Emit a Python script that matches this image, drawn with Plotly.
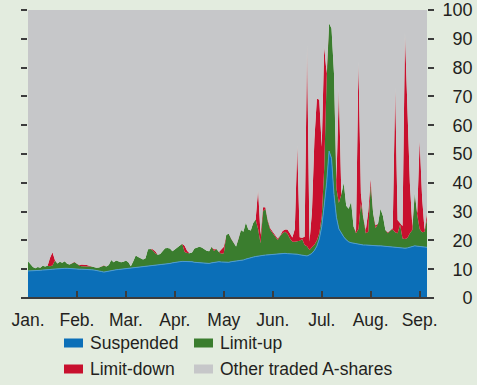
import plotly.graph_objects as go

# Daily share of A-shares by trading status, Jan.–early Sep. (per cent)
months = ["Jan.", "Feb.", "Mar.", "Apr.", "May", "Jun.", "Jul.", "Aug.", "Sep."]
month_start_day = [0, 20, 40, 60, 80, 100, 120, 140, 160]
y_ticks = [0, 10, 20, 30, 40, 50, 60, 70, 80, 90, 100]

suspended = [
    9.4, 9.4, 9.5, 9.5, 9.6, 9.6, 9.7, 9.7, 9.8, 9.9,
    10.0, 10.1, 10.2, 10.3, 10.3, 10.3, 10.3, 10.2, 10.2, 10.1,
    10.1, 10.0, 10.0, 10.0, 9.9, 9.8, 9.8, 9.7, 9.6, 9.5,
    9.2, 9.0, 9.2, 9.4, 9.6, 9.7, 9.8, 9.9, 10.0, 10.1,
    10.2, 10.3, 10.2, 10.4, 10.6, 10.7, 10.8, 10.9, 11.0, 11.1,
    11.2, 11.3, 11.4, 11.5, 11.6, 11.7, 11.8, 11.9, 12.0, 12.2,
    12.4, 12.5, 12.6, 12.7, 12.7, 12.8, 12.7, 12.6, 12.4, 12.3,
    12.2, 12.1, 12.1, 12.0, 12.0, 12.2, 12.4, 12.5, 12.6, 12.5,
    12.4, 12.3, 12.4, 12.6, 12.7, 12.8, 12.9, 13.0, 13.2, 13.5,
    13.8, 14.0, 14.2, 14.4, 14.6, 14.7, 14.8, 14.9, 15.0, 15.1,
    15.2, 15.3, 15.4, 15.5, 15.5, 15.5, 15.4, 15.4, 15.3, 15.3,
    15.2, 15.0, 14.8, 14.6, 14.6, 15.0, 15.5, 16.5, 18.0, 20.5,
    24.8, 32.0, 40.0, 51.0, 48.5, 36.0, 28.0, 24.0, 22.5, 21.2,
    20.2, 19.5, 19.2, 19.0, 18.8, 18.6, 18.5, 18.4, 18.4, 18.3,
    18.3, 18.2, 18.2, 18.1, 18.1, 18.0, 17.9, 17.8, 17.7, 17.6,
    17.6, 17.5, 17.4, 17.3, 17.3, 17.4, 17.6, 17.9, 18.1, 18.0,
    17.9, 17.8, 17.7, 17.6,
]

limit_up = [
    3.4, 2.2, 1.3, 0.8, 1.2, 0.9, 1.5, 1.2, 1.4, 1.1,
    1.3, 2.9, 1.8, 2.3, 1.9, 2.5, 1.6, 1.4, 1.8, 2.3,
    1.8, 1.2, 1.0, 0.9, 1.0, 1.1, 1.1, 0.9, 0.9, 1.1,
    1.7, 2.2, 1.7, 2.1, 3.6, 2.7, 3.2, 2.9, 2.4, 2.5,
    2.8, 2.1, 0.8, 2.4, 4.2, 3.5, 3.0, 2.5, 2.8, 5.8,
    5.8, 5.2, 4.1, 3.5, 3.7, 4.6, 5.5, 5.5, 5.2, 4.0,
    4.5, 5.1, 5.7, 6.1, 3.3, 2.8, 2.8, 3.2, 4.8, 5.3,
    5.6, 5.4, 4.8, 4.4, 4.2, 5.6, 3.9, 4.5, 3.4, 2.9,
    3.1, 9.7, 9.9, 7.9, 6.6, 5.1, 7.6, 10.6, 9.8, 12.7,
    10.0, 9.4, 11.8, 12.9, 9.4, 4.3, 15.2, 16.1, 11.5, 8.5,
    7.3, 5.8, 4.7, 6.0, 7.0, 7.5, 6.9, 5.3, 4.2, 4.2,
    4.4, 4.9, 5.7, 3.8, 3.4, 1.7, 2.1, 2.0, 2.0, 2.0,
    3.4, 13.0, 36.0, 44.4, 45.1, 42.0, 10.0, 9.0, 13.5, 18.8,
    11.8, 11.5, 14.2, 5.8, 3.7, 5.4, 14.4, 9.6, 4.1, 4.7,
    21.2, 11.2, 6.0, 7.8, 12.9, 10.5, 5.7, 4.7, 5.7, 6.2,
    5.2, 5.0, 8.1, 3.4, 3.2, 3.4, 4.9, 5.7, 18.4, 11.0,
    6.1, 5.0, 5.3, 9.9,
]

limit_down = [
    0, 0, 0, 0, 0, 0, 0, 0, 0, 3.0,
    4.6, 0.2, 0, 0, 0, 0, 0, 0, 0, 0.2,
    0, 0.3, 0.6, 0.7, 0.6, 0.3, 0, 0, 0, 0,
    0, 0.2, 0, 0, 0, 0, 0, 0, 0, 0,
    0, 0, 0, 0, 0, 0, 0, 0, 0, 0,
    0, 0.4, 0.7, 0, 0, 0, 0, 0, 0, 0,
    0, 0, 0, 0, 2.1, 0.8, 0, 0, 0, 0,
    0, 0, 0, 0, 0, 0, 0.6, 0, 0, 1.4,
    2.3, 0, 0, 0, 0, 0, 0, 0, 0, 0,
    0, 0, 0, 0, 13.7, 3.0, 1.5, 0.5, 0.5, 0.6,
    0.5, 0.8, 0.6, 0.2, 0.8, 0.8, 1.5, 1.8, 1.5, 4.5,
    33.4, 1.2, 0.4, 2.9, 69.8, 2.8, 12.4, 36.5, 49.3, 46.3,
    24.3, 42.3, 2.0, 0, 0, 0, 3.0, 39.8, 0, 0,
    0, 0, 0, 0, 0.5, 58.1, 3.4, 0, 1.1, 7.0,
    2.1, 0, 1.1, 0, 0, 0, 0, 0.3, 0.2, 0.4,
    50.3, 4.6, 0.5, 4.3, 71.7, 47.2, 17.5, 1.4, 0, 0.4,
    31.0, 12.2, 0.6, 1.9,
]

# everything not suspended or at a price limit traded normally
other_traded = [round(100 - s - u - d, 1) for s, u, d in zip(suspended, limit_up, limit_down)]
days = list(range(len(suspended)))

BG = "#e3ecdf"
TEXT = "#231f20"
AXIS = "#3c3c3c"
FONT = "Liberation Sans, Arial, sans-serif"

series = [
    ("Suspended", suspended, "#0b6fb8", "#4d9bd2", 1),
    ("Limit-up", limit_up, "#3a7d2e", "#3a7d2e", 0),
    ("Limit-down", limit_down, "#c8102e", "#c8102e", 0),
    ("Other traded A-shares", other_traded, "#c6c7c9", "#c6c7c9", 0),
]

fig = go.Figure()
for name, values, fill, edge, width in series:
    fig.add_trace(go.Scatter(
        x=days, y=values, name=name, mode="lines", stackgroup="status",
        line=dict(color=edge, width=width), fillcolor=fill, showlegend=False,
    ))

# secondary left axis carries only tick marks
fig.add_trace(go.Scatter(x=[None], y=[None], yaxis="y2", showlegend=False))

plot_l, plot_r, plot_t, plot_b = 28, 50, 10, 87
W, H = 477, 385
pw, ph = W - plot_l - plot_r, H - plot_t - plot_b


def px_x(p):
    return (p - plot_l) / pw


def px_y(p):
    return (H - plot_b - p) / ph


right_labels = ["\u2007" * (3 - len(str(v))) + str(v) for v in y_ticks]

fig.update_layout(
    width=W, height=H,
    margin=dict(l=plot_l, r=plot_r, t=plot_t, b=plot_b, autoexpand=False),
    paper_bgcolor=BG, plot_bgcolor=BG,
    font=dict(family=FONT, size=18, color=TEXT),
    showlegend=False,
    xaxis=dict(
        range=[0, days[-1]], tickvals=month_start_day, ticktext=months,
        ticks="inside", ticklen=7, tickwidth=2, tickcolor=AXIS,
        ticklabelstandoff=9, automargin=False,
        showgrid=False, zeroline=False, showline=False,
        tickfont=dict(size=17.5, color=TEXT), fixedrange=True,
    ),
    yaxis=dict(
        range=[0, 100], side="right", tickvals=y_ticks, ticktext=right_labels,
        ticks="outside", ticklen=6, tickwidth=2, tickcolor=AXIS,
        ticklabelstandoff=5, automargin=False,
        showgrid=False, zeroline=False, showline=False,
        tickfont=dict(size=18, color=TEXT),
    ),
    yaxis2=dict(
        range=[0, 100], overlaying="y", side="left", tickvals=y_ticks,
        ticks="outside", ticklen=6, tickwidth=2, tickcolor=AXIS, automargin=False,
        showticklabels=False, showgrid=False, zeroline=False, showline=False,
    ),
)

# baseline running slightly past both ends of the plot
fig.add_shape(type="line", xref="paper", yref="paper",
              x0=px_x(22), x1=px_x(433), y0=0, y1=0,
              line=dict(color=AXIS, width=2), layer="above")

# two-column legend
legend_items = [
    ("Suspended", "#0b6fb8", 64, 343),
    ("Limit-up", "#3a7d2e", 194, 343),
    ("Limit-down", "#c8102e", 64, 369),
    ("Other traded A-shares", "#c6c7c9", 194, 369),
]
for label, color, x0, yc in legend_items:
    fig.add_shape(type="rect", xref="paper", yref="paper",
                  x0=px_x(x0), x1=px_x(x0 + 19), y0=px_y(yc - 4.5), y1=px_y(yc + 4.5),
                  fillcolor=color, line=dict(width=0))
    fig.add_annotation(text=label, xref="paper", yref="paper",
                       x=px_x(x0 + 24), y=px_y(yc), xanchor="left", yanchor="middle",
                       showarrow=False, font=dict(size=17.5, color=TEXT, family=FONT))

fig.write_html("out.html")
